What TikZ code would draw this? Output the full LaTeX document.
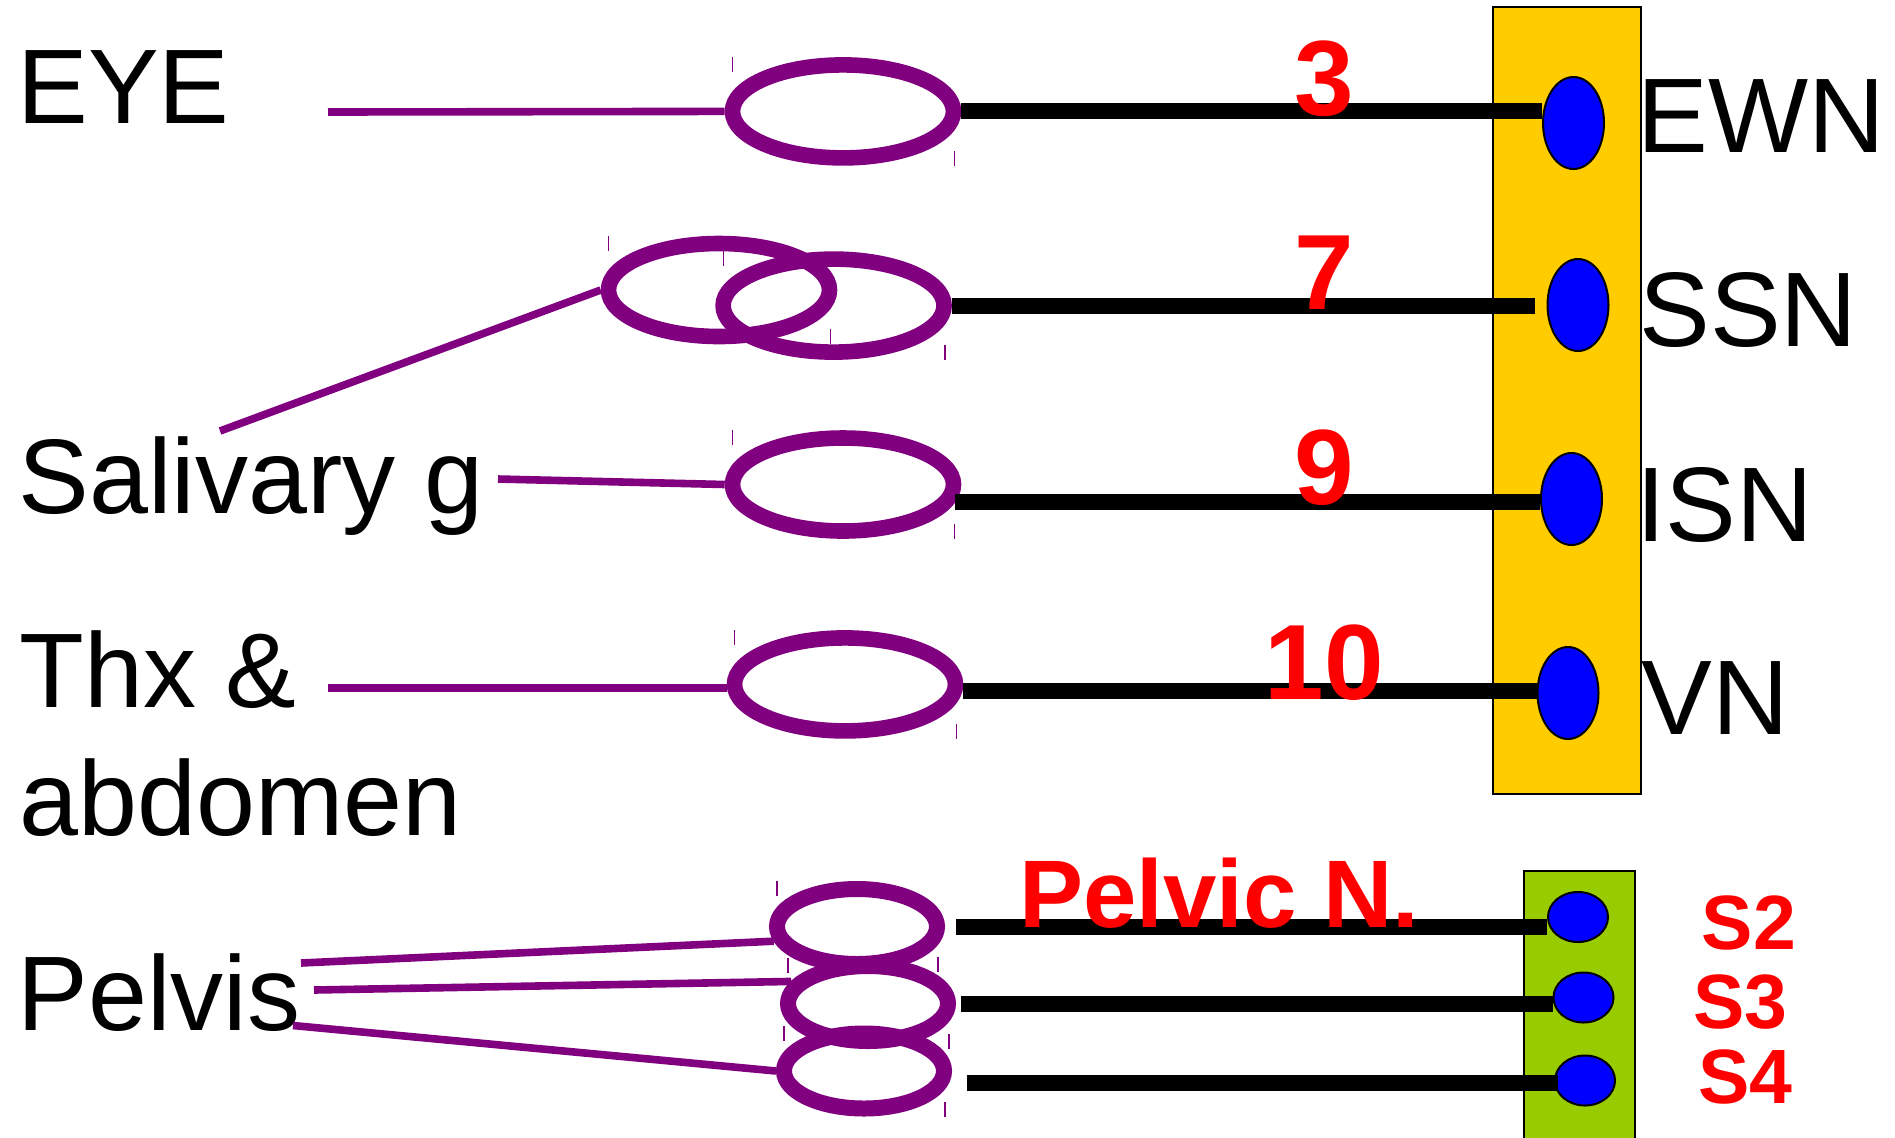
\documentclass[tikz,border=0pt]{standalone}
\usepackage{fontspec}
\setmainfont{Liberation Sans}
\usetikzlibrary{shapes.geometric}
\definecolor{gpurple}{RGB}{128,0,128}
\definecolor{boxyellow}{RGB}{255,204,0}
\definecolor{boxgreen}{RGB}{153,204,0}
\definecolor{dotblue}{RGB}{0,0,255}
\definecolor{nred}{RGB}{255,0,0}
\begin{document}
\begin{tikzpicture}[x=0.5pt,y=0.5pt,yscale=-1,
  ganglion/.style={ellipse, draw=gpurple, line width=7.8pt, minimum width=110.5pt, minimum height=46.5pt, inner sep=0pt},
  pganglion/.style={ellipse, draw=gpurple, line width=8pt, minimum width=80pt, minimum height=37.5pt, inner sep=0pt},
  nucleus/.style={ellipse, draw=black, fill=dotblue, line width=1pt, minimum width=30.5pt, minimum height=46pt, inner sep=0pt},
  snucleus/.style={nucleus, minimum width=30pt, minimum height=25pt},
  organ/.style={font=\fontsize{53}{64}\selectfont, anchor=base west, inner sep=0pt},
  nerveno/.style={text=nred, font=\bfseries\fontsize{53.5}{60}\selectfont, anchor=base, inner sep=0pt},
  segment/.style={text=nred, font=\bfseries\fontsize{38.5}{44}\selectfont, anchor=base west, inner sep=0pt},
  fiber/.style={draw=gpurple, line width=3.8pt},
  nerve/.style={draw=black, line width=8pt},
  tick/.style={draw=gpurple, line width=0.75pt}]
\useasboundingbox (0,0) rectangle (1895,1137);

%Shape: Rectangle [brain stem]
\draw [fill=boxyellow, line width=1pt] (1493,7) rectangle (1640.6,794);
%Shape: Rectangle [sacral cord]
\draw [fill=boxgreen, line width=1pt] (1524,871) rectangle (1635,1142);

%Shape: Ellipse [nuclei]
\node [nucleus] (dEWN) at (1573.5,123) {};
\node [nucleus] (dSSN) at (1578,305) {};
\node [nucleus] (dISN) at (1571.5,499) {};
\node [nucleus] (dVN) at (1568,693) {};
\node [snucleus] (dS2) at (1578,917) {};
\node [snucleus] (dS3) at (1583.5,997.5) {};
\node [snucleus] (dS4) at (1585,1080.5) {};

%Shape: Ellipse [ganglia]
\node [ganglion] (gEye) at (843,111.4) {};
\node [ganglion] (gSal1) at (719,290) {};
\node [ganglion] (gSal2) at (833.6,305.6) {};
\node [ganglion] (gSal3) at (843,484.5) {};
\node [ganglion] (gThx) at (845,684.4) {};
\node [pganglion] (gP1) at (857,926.5) {};
\node [pganglion] (gP2) at (868,1003.5) {};
\node [pganglion] (gP3) at (864,1071) {};

% Text Node
\node [organ] (tEye) at (17,123) {EYE};
% Text Node
\node [organ] (tSal) at (18,513) {Salivary g};
% Text Node
\node [organ, align=left] (tThx) at (19,835.3) {Thx \&\\abdomen};
% Text Node
\node [organ] (tPel) at (17,1030) {Pelvis};
% Text Node
\node [organ] (tEWN) at (1637.5,152) {EWN};
\node [organ] (tSSN) at (1639,346) {SSN};
\node [organ] (tISN) at (1636,541) {ISN};
\node [organ] (tVN) at (1641,734.6) {VN};

% free ends of the fibres
\coordinate (eyeEnd) at (328,112);
\coordinate (salEnd) at (220,431);
\coordinate (salEnd2) at (498,479);
\coordinate (thxEnd) at (328,688);
\coordinate (pelEnd1) at (301,963);
\coordinate (pelEnd2) at (314,990);
\coordinate (pelEnd3) at (293,1025.5);

%Straight Lines [preganglionic]
\draw [fiber] (eyeEnd) -- (gEye.west);
\draw [fiber] (salEnd) -- (gSal1.west);
\draw [fiber] (salEnd2) -- (gSal3.west);
\draw [fiber] (thxEnd) -- (thxEnd -| gThx.west);
\draw [fiber] (pelEnd1) -- (gP1.190);
\draw [fiber] (pelEnd2) -- (gP2.164);
\draw [fiber] (pelEnd3) -- (gP3.west);

%Straight Lines [nerves]
\draw [nerve] (gEye.east) -- (gEye.east -| dEWN.west);
\draw [nerve] (gSal2.east) -- ([xshift=-6pt]gSal2.east -| dSSN.west);
\draw [nerve] (gSal3.-9) -- (gSal3.-9 -| dISN.west);
\draw [nerve] (gThx.-3) -- (gThx.-3 -| dVN.west);
\draw [nerve, shorten <=5.5pt] (gP1.east) -- (gP1.east -| dS2.west);
\draw [nerve, shorten <=2.5pt] (gP2.east) -- (gP2.east -| dS3.west);
\draw [nerve, shorten <=8.8pt, shorten >=-2pt] (gP3.-8) -- (gP3.-8 -| dS4.west);

% corner ticks
\foreach \g in {gEye,gSal1,gSal2,gSal3,gThx,gP1,gP2,gP3}{
  \draw [tick] (\g.west |- \g.north) ++(8,0) -- ++(0,15);
  \draw [tick] (\g.east |- \g.south) ++(-7,0) -- ++(0,-15);
}

% Text Node
\node [nerveno] (n3) at (1324,115) {3};
\node [nerveno] (n7) at (1324,309) {7};
\node [nerveno] (n9) at (1324,504) {9};
\node [nerveno] (n10) at (1324,699) {10};
% Text Node
\node [segment, font=\bfseries\fontsize{48}{54}\selectfont] (tPelvicN) at (1019,927) {Pelvic N.};
\node [segment] (tS2) at (1701.5,949.5) {S2};
\node [segment] (tS3) at (1693,1028.5) {S3};
\node [segment] (tS4) at (1698,1103) {S4};

\end{tikzpicture}
\end{document}
